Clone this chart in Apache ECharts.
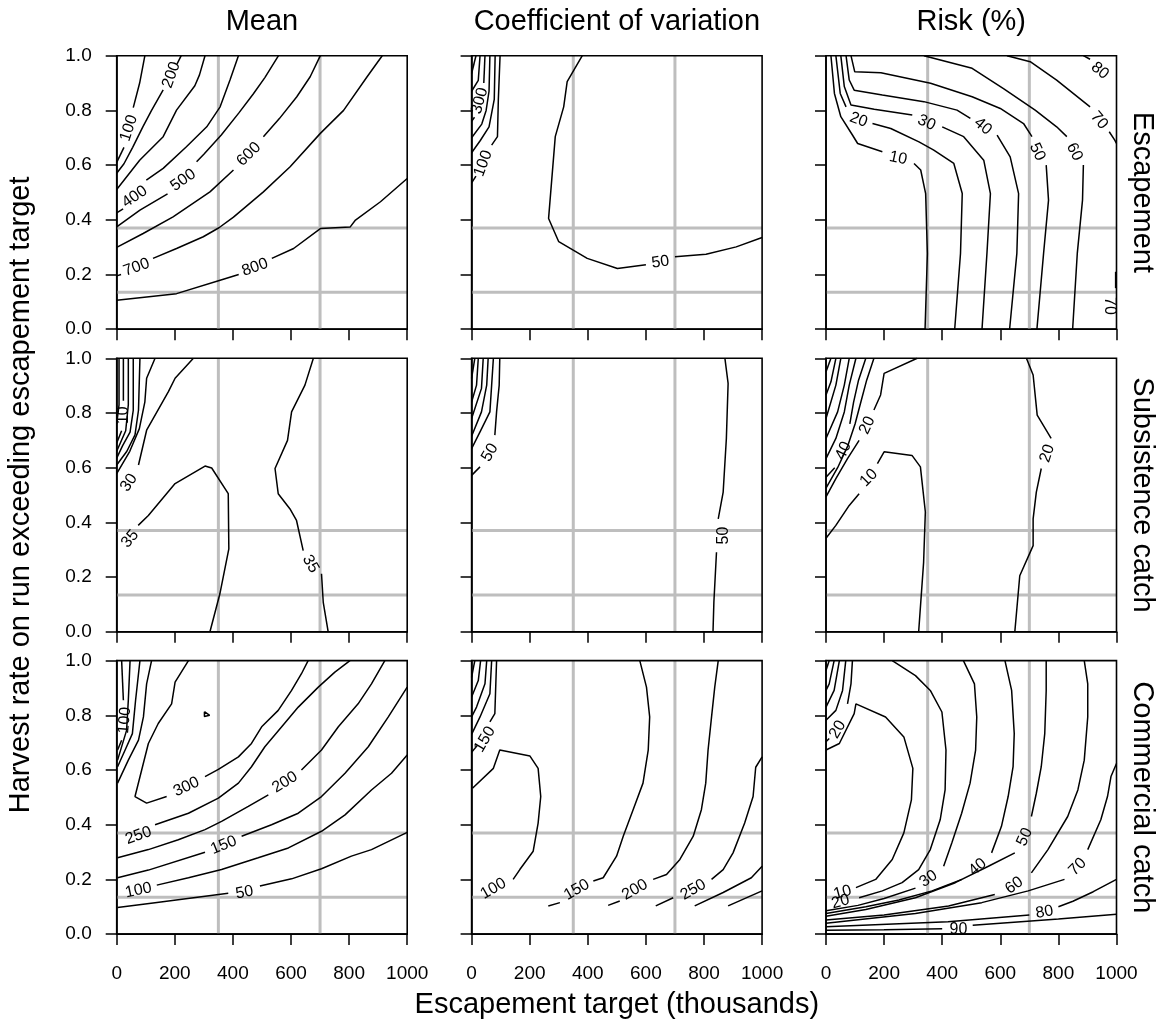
<!DOCTYPE html>
<html><head><meta charset="utf-8">
<script src="https://cdn.jsdelivr.net/npm/echarts@6/dist/echarts.min.js"></script>
<style>html,body{margin:0;padding:0;background:#fff}#c{width:1163px;height:1025px}</style>
</head><body><div id="c"></div>
<script>
const xTicks = [0, 200, 400, 600, 800, 1000];
const yTicks = [0, 0.2, 0.4, 0.6, 0.8, 1.0];
const refX = [350, 700];
const refY = [0.37, 0.135];
const colTitles = ['Mean', 'Coefficient of variation', 'Risk (%)'];
const rowTitles = ['Escapement', 'Subsistence catch', 'Commercial catch'];
const xTitle = 'Escapement target (thousands)';
const yTitle = 'Harvest rate on run exceeding escapement target';

// each contour: lv = level text, segs = polyline pieces [x, y], at = label point [x, y, angle]
const escMean = [
  {lv:'100', segs:[[[97,1],[79,0.9],[57,0.81]],[[25,0.665],[0,0.61]]], at:[42,0.735,72]},
  {lv:'200', segs:[[[222,1],[208,0.97]],[[160,0.875],[120,0.8],[90,0.74],[55,0.665],[25,0.605],[0,0.57]]], at:[188,0.93,70]},
  {lv:'300', segs:[[[304,1],[285,0.93],[269,0.89],[206,0.801],[160,0.704],[79,0.618],[0,0.511]]], at:null},
  {lv:'400', segs:[[[419,1],[390,0.911],[356,0.813],[310,0.74],[240,0.667],[160,0.588],[102,0.545]],[[22,0.44],[0,0.425]]], at:[62,0.484,35]},
  {lv:'500', segs:[[[557,1],[510,0.92],[470,0.86],[420,0.79],[360,0.71],[300,0.64],[275,0.612]],[[175,0.495],[80,0.435],[0,0.374]]], at:[229,0.545,35]},
  {lv:'600', segs:[[[701,1],[666,0.923],[620,0.85],[560,0.77],[505,0.704]],[[402,0.582],[321,0.502],[194,0.411],[91,0.35],[0,0.299]]], at:[455,0.64,45]},
  {lv:'700', segs:[[[914,1],[862,0.923],[781,0.8],[701,0.716],[597,0.594],[505,0.502],[402,0.41],[352,0.371],[298,0.338],[206,0.295],[125,0.259]],[[15,0.2],[0,0.195]]], at:[68,0.226,20]},
  {lv:'800', segs:[[[0,0.106],[206,0.13],[356,0.179],[420,0.2]],[[534,0.259],[609,0.295],[701,0.368],[804,0.374],[822,0.399],[908,0.466],[1000,0.551]]], at:[476,0.226,20]}
];
const escCV = [
  {lv:'50', segs:[[[381,1],[329,0.905],[317,0.813],[288,0.704],[265,0.405],[300,0.32],[398,0.259],[502,0.222],[600,0.236]],[[700,0.265],[807,0.274],[911,0.301],[1000,0.335]]], at:[650,0.245,8]},
  {lv:'100', segs:[[[98,1],[92,0.838],[89,0.704],[69,0.673]],[[15,0.56],[0,0.535]]], at:[40,0.606,70]},
  {lv:'', segs:[[[81,1],[78,0.84],[60,0.74],[30,0.69],[0,0.645]]], at:null},
  {lv:'', segs:[[[63,1],[60,0.87],[50,0.8],[35,0.75],[0,0.7]]], at:null},
  {lv:'300', segs:[[[46,1],[42,0.9]],[[10,0.775],[0,0.76]]], at:[28,0.835,75]},
  {lv:'', segs:[[[29,1],[23,0.91],[0,0.87]]], at:null},
  {lv:'', segs:[[[15,1],[0,0.935]]], at:null}
];
const escRisk = [
  {lv:'10', segs:[[[17,1],[29,0.862],[51,0.777],[91,0.71],[109,0.679],[194,0.649]],[[303,0.606],[326,0.582],[343,0.496],[349,0.277],[341,0]]], at:[248,0.625,-12]},
  {lv:'20', segs:[[[34,1],[49,0.862],[69,0.813]],[[160,0.752],[223,0.734],[320,0.685],[371,0.655],[440,0.606],[469,0.496],[463,0.277],[443,0]]], at:[112,0.765,-20]},
  {lv:'30', segs:[[[51,1],[63,0.887],[86,0.82],[166,0.804],[297,0.783]],[[400,0.74],[474,0.704],[543,0.618],[566,0.496],[554,0.277],[537,0]]], at:[346,0.755,-25]},
  {lv:'40', segs:[[[69,1],[80,0.911],[97,0.874],[194,0.856],[337,0.832],[451,0.801],[497,0.771]],[[589,0.71],[634,0.63],[663,0.496],[657,0.277],[632,0]]], at:[540,0.742,-40]},
  {lv:'50', segs:[[[86,1],[99,0.941],[189,0.938],[360,0.899],[503,0.85],[600,0.807],[680,0.752],[709,0.704]],[[758,0.6],[766,0.472],[749,0.277],[726,0]]], at:[727,0.648,-65]},
  {lv:'60', segs:[[[337,1],[503,0.954],[611,0.88],[720,0.801],[794,0.74],[829,0.704]],[[886,0.6],[883,0.472],[865,0.277],[849,0]]], at:[855,0.648,-65]},
  {lv:'70', segs:[[[623,1],[703,0.978],[794,0.911],[909,0.813]],[[975,0.722],[994,0.691],[1000,0.679]]], at:[940,0.763,-50]},
  {lv:'80', segs:[[[886,1],[909,0.987]]], at:[943,0.945,-40]},
  {lv:'70', segs:[[[997,0.21],[997,0.15]]], at:[977,0.085,-90]}
];
const subMean = [
  {lv:'35', segs:[[[74,0.389],[109,0.425],[201,0.542],[304,0.606],[327,0.599],[384,0.505],[386,0.303],[355,0.138],[321,0]]], at:[46,0.34,50]},
  {lv:'35', segs:[[[677,1],[648,0.902],[602,0.804],[588,0.7],[545,0.597],[556,0.505],[596,0.45],[619,0.407],[642,0.297]],[[705,0.212],[711,0.108],[728,0]]], at:[667,0.248,-60]},
  {lv:'30', segs:[[[264,1],[201,0.927],[178,0.878],[103,0.737],[75,0.61]]], at:[42,0.545,55]},
  {lv:'', segs:[[[132,1],[103,0.927],[97,0.841],[78,0.743],[45,0.66],[0,0.578]]], at:null},
  {lv:'', segs:[[[80,1],[75,0.81],[63,0.72],[35,0.66],[0,0.61]]], at:null},
  {lv:'', segs:[[[57,1],[57,0.81],[46,0.73],[20,0.68],[0,0.635]]], at:null},
  {lv:'', segs:[[[40,1],[40,0.83],[31,0.735],[0,0.66]]], at:null},
  {lv:'10', segs:[[[23,1],[23,0.845]],[[17,0.735],[0,0.69]]], at:[23,0.792,90]},
  {lv:'', segs:[[[8,1],[8,0.83],[0,0.76]]], at:null}
];
const subCV = [
  {lv:'50', segs:[[[872,1],[883,0.908],[877,0.707],[866,0.511],[849,0.413]],[[843,0.291],[834,0.108],[831,0]]], at:[866,0.352,90]},
  {lv:'50', segs:[[[97,1],[95,0.902],[86,0.804],[80,0.719]],[[29,0.603],[0,0.572]]], at:[63,0.655,60]},
  {lv:'', segs:[[[75,1],[69,0.902],[63,0.804],[29,0.731],[0,0.67]]], at:null},
  {lv:'', segs:[[[57,1],[52,0.902],[34,0.804],[0,0.715]]], at:null},
  {lv:'', segs:[[[40,1],[34,0.89],[0,0.78]]], at:null},
  {lv:'', segs:[[[23,1],[17,0.902],[0,0.84]]], at:null},
  {lv:'', segs:[[[11,1],[0,0.927]]], at:null}
];
const subRisk = [
  {lv:'20', segs:[[[690,1],[713,0.939],[727,0.792],[775,0.707]],[[741,0.597],[724,0.511],[713,0.413],[713,0.315],[667,0.205],[650,0]]], at:[762,0.652,72]},
  {lv:'10', segs:[[[0,0.342],[34,0.389],[80,0.462],[114,0.505]],[[177,0.615],[200,0.658],[296,0.645],[325,0.603],[342,0.438],[336,0.254],[319,0]]], at:[148,0.563,45]},
  {lv:'20', segs:[[[314,1],[200,0.945],[188,0.866],[165,0.811]],[[114,0.7],[74,0.633],[34,0.56],[0,0.493]]], at:[142,0.755,65]},
  {lv:'', segs:[[[165,1],[140,0.92],[120,0.84],[100,0.76],[75,0.68],[40,0.6],[0,0.525]]], at:null},
  {lv:'40', segs:[[[137,1],[112,0.92],[95,0.84],[82,0.76]],[[30,0.6],[0,0.565]]], at:[60,0.662,65]},
  {lv:'', segs:[[[103,1],[80,0.902],[63,0.804],[34,0.707],[0,0.633]]], at:null},
  {lv:'', segs:[[[80,1],[63,0.902],[40,0.804],[0,0.707]]], at:null},
  {lv:'', segs:[[[51,1],[34,0.902],[0,0.78]]], at:null},
  {lv:'', segs:[[[34,1],[17,0.914],[0,0.866]]], at:null},
  {lv:'', segs:[[[17,1],[0,0.951]]], at:null}
];
const comMean = [
  {lv:'50', segs:[[[3,0.097],[132,0.115],[384,0.149]],[[493,0.176],[602,0.202],[705,0.239],[808,0.285],[877,0.309],[1000,0.372]]], at:[440,0.152,10]},
  {lv:'100', segs:[[[138,0.179],[247,0.206],[361,0.236],[487,0.279],[591,0.315],[705,0.376],[786,0.436],[877,0.527],[946,0.588],[1000,0.655]]], at:[75,0.16,12]},
  {lv:'150', segs:[[[3,0.206],[109,0.234],[304,0.299]],[[430,0.358],[533,0.4],[625,0.442],[705,0.503],[786,0.588],[866,0.685],[935,0.794],[1000,0.903]]], at:[368,0.325,22]},
  {lv:'200', segs:[[[3,0.279],[109,0.309],[212,0.345],[304,0.382],[361,0.412],[453,0.467],[522,0.509]],[[636,0.6],[705,0.673],[763,0.758],[831,0.842],[877,0.915],[923,1]]], at:[579,0.555,32]},
  {lv:'250', segs:[[[132,0.4],[247,0.442],[350,0.497],[419,0.552],[464,0.612],[510,0.685],[568,0.758],[625,0.83],[694,0.903],[751,0.958],[803,1]]], at:[75,0.36,20]},
  {lv:'300', segs:[[[247,1],[201,0.921],[189,0.842],[143,0.77],[109,0.697],[86,0.6],[63,0.503],[103,0.479],[172,0.503]],[[304,0.576],[350,0.602],[419,0.648],[464,0.697],[499,0.758],[556,0.818],[602,0.891],[636,0.952],[659,1]]], at:[240,0.538,25]},
  {lv:'100', segs:[[[17,1],[23,0.855]],[[17,0.709],[3,0.673]]], at:[28,0.782,85]},
  {lv:'', segs:[[[46,1],[40,0.855],[34,0.745],[3,0.636]]], at:null},
  {lv:'', segs:[[[80,1],[65,0.855],[54,0.733],[29,0.673],[3,0.612]]], at:null},
  {lv:'', segs:[[[120,1],[103,0.915],[92,0.794],[75,0.709],[40,0.636],[3,0.552]]], at:null},
  {lv:'', segs:[[[302,0.813],[320,0.8],[302,0.796],[302,0.813]]], at:null}
];
const comCV = [
  {lv:'100', segs:[[[3,0.533],[75,0.606],[97,0.673],[201,0.651],[229,0.606],[238,0.503],[229,0.406],[212,0.303],[166,0.236],[143,0.2]]], at:[75,0.166,30]},
  {lv:'150', segs:[[[579,1],[602,0.903],[613,0.794],[608,0.673],[590,0.552],[556,0.455],[522,0.358],[499,0.285],[453,0.206],[419,0.194]],[[304,0.115],[264,0.103]]], at:[362,0.162,30]},
  {lv:'200', segs:[[[849,1],[837,0.903],[826,0.794],[814,0.673],[806,0.552],[791,0.455],[763,0.358],[717,0.273],[671,0.218],[625,0.2]],[[510,0.121],[470,0.105]]], at:[562,0.162,30]},
  {lv:'250', segs:[[[1000,0.648],[978,0.61],[969,0.503],[940,0.406],[900,0.297],[866,0.236],[826,0.2]],[[694,0.133],[634,0.103]]], at:[763,0.162,30]},
  {lv:'', segs:[[[1000,0.248],[963,0.206],[866,0.152],[768,0.103]]], at:null},
  {lv:'', segs:[[[1000,0.158],[883,0.103]]], at:null},
  {lv:'150', segs:[[[86,1],[80,0.806],[63,0.776]],[[20,0.69],[0,0.665]]], at:[46,0.712,60]},
  {lv:'', segs:[[[69,1],[63,0.879],[29,0.794],[0,0.73]]], at:null},
  {lv:'', segs:[[[52,1],[46,0.915],[17,0.83],[0,0.794]]], at:null},
  {lv:'', segs:[[[31,1],[23,0.927],[0,0.867]]], at:null},
  {lv:'', segs:[[[11,1],[0,0.939]]], at:null}
];
const comRisk = [
  {lv:'10', segs:[[[0,0.673],[46,0.697],[97,0.806],[103,0.842],[205,0.794],[268,0.721],[299,0.606],[294,0.491],[268,0.37],[228,0.273],[171,0.2],[103,0.17]]], at:[57,0.152,15]},
  {lv:'20', segs:[[[228,1],[308,0.945],[359,0.891],[399,0.812],[413,0.673],[410,0.527],[393,0.418],[359,0.309],[319,0.236],[262,0.188],[194,0.158],[114,0.133]]], at:[50,0.118,15]},
  {lv:'30', segs:[[[473,1],[511,0.915],[519,0.794],[515,0.673],[496,0.552],[467,0.442],[433,0.333],[405,0.248]],[[308,0.168],[200,0.13],[110,0.105],[0,0.085]]], at:[353,0.202,35]},
  {lv:'40', segs:[[[616,1],[639,0.891],[648,0.733],[644,0.612],[627,0.503],[604,0.394],[570,0.297]],[[468,0.2],[365,0.158],[251,0.125],[137,0.1],[0,0.075]]], at:[522,0.245,40]},
  {lv:'50', segs:[[[758,1],[758,0.891],[753,0.733],[741,0.612],[724,0.515],[707,0.43]],[[650,0.297],[559,0.248],[445,0.188],[308,0.133],[137,0.09],[0,0.065]]], at:[684,0.355,65]},
  {lv:'60', segs:[[[889,1],[901,0.915],[901,0.794],[889,0.636],[867,0.527],[832,0.43],[764,0.309],[707,0.224]],[[581,0.145],[422,0.103],[200,0.07],[0,0.052]]], at:[648,0.178,35]},
  {lv:'70', segs:[[[1000,0.624],[981,0.576],[969,0.503],[946,0.418],[901,0.309]],[[821,0.2],[696,0.158],[536,0.115],[308,0.075],[0,0.04]]], at:[866,0.246,45]},
  {lv:'80', segs:[[[1000,0.2],[920,0.155],[850,0.12],[800,0.1]],[[700,0.07],[420,0.045],[0,0.027]]], at:[752,0.08,10]},
  {lv:'90', segs:[[[1000,0.073],[800,0.055],[600,0.04],[505,0.032]],[[400,0.02],[200,0.016],[0,0.014]]], at:[456,0.016,0]},
  {lv:'20', segs:[[[91,1],[86,0.915],[74,0.842]],[[11,0.715],[0,0.703]]], at:[40,0.748,60]},
  {lv:'', segs:[[[68,1],[57,0.891],[34,0.818],[0,0.782]]], at:null},
  {lv:'', segs:[[[46,1],[28,0.891],[0,0.83]]], at:null},
  {lv:'', segs:[[[28,1],[11,0.915],[0,0.891]]], at:null},
  {lv:'', segs:[[[11,1],[0,0.964]]], at:null}
];
const panels = [escMean, escCV, escRisk, subMean, subCV, subRisk, comMean, comCV, comRisk];

const FONT = '"Liberation Sans", Arial, Helvetica, sans-serif';
const L = [116.7, 471.6, 826], T = [55.7, 358.3, 660.6], W = 290.5, H = 273.5;
const chart = echarts.init(document.getElementById('c'), null, {renderer: 'canvas'});
const option = {animation: false, backgroundColor: '#fff', grid: [], xAxis: [], yAxis: [], series: [], graphic: []};

panels.forEach((P, i) => {
  const r = Math.floor(i / 3), c = i % 3;
  option.grid.push({left: L[c], top: T[r], width: W, height: H, show: true, borderColor: '#000', borderWidth: 1.6, backgroundColor: 'transparent', z: 10});
  option.xAxis.push({type: 'value', gridIndex: i, min: xTicks[0], max: xTicks[xTicks.length - 1], interval: xTicks[1] - xTicks[0],
    axisLine: {show: true, onZero: false, lineStyle: {color: '#000', width: 1.6}},
    axisTick: {show: true, inside: false, length: 11, lineStyle: {color: '#000', width: 1.5}},
    axisLabel: {show: r === 2, margin: 30, fontSize: 19, color: '#000', fontFamily: FONT, formatter: v => String(v)},
    splitLine: {show: false}});
  option.yAxis.push({type: 'value', gridIndex: i, min: yTicks[0], max: yTicks[yTicks.length - 1], interval: 0.2,
    axisLine: {show: true, onZero: false, lineStyle: {color: '#000', width: 1.6}},
    axisTick: {show: true, inside: false, length: 11, lineStyle: {color: '#000', width: 1.5}},
    axisLabel: {show: c === 0, margin: 25, fontSize: 19, color: '#000', fontFamily: FONT, formatter: v => v.toFixed(1)},
    splitLine: {show: false}});
  const grey = {color: '#bebebe', width: 3};
  refX.forEach(v => option.series.push({type: 'line', xAxisIndex: i, yAxisIndex: i, data: [[v, yTicks[0]], [v, yTicks[5]]], symbol: 'none', lineStyle: grey, silent: true, z: 1}));
  refY.forEach(v => option.series.push({type: 'line', xAxisIndex: i, yAxisIndex: i, data: [[xTicks[0], v], [xTicks[5], v]], symbol: 'none', lineStyle: grey, silent: true, z: 1}));
  P.forEach(ct => ct.segs.forEach(s => option.series.push({type: 'line', xAxisIndex: i, yAxisIndex: i, data: s, symbol: 'none', smooth: false,
    lineStyle: {color: '#000', width: 1.5}, silent: true, z: 3})));
  option.series.push({type: 'scatter', xAxisIndex: i, yAxisIndex: i, symbolSize: 1, itemStyle: {color: 'rgba(255,255,255,0)'}, silent: true, z: 5,
    data: P.filter(ct => ct.at).map(ct => ({name: ct.lv, value: [ct.at[0], ct.at[1]], label: {rotate: ct.at[2]}})),
    label: {show: true, position: 'inside', formatter: '{b}', fontSize: 16, color: '#000', textBorderWidth: 0, textBorderColor: 'transparent', opacity: 1, fontFamily: FONT}});
});

const txt = (text, x, y, rot) => ({type: 'text', x: x, y: y, rotation: rot || 0, z: 20,
  style: {text: text, font: '29px ' + FONT, fill: '#000', textAlign: 'center', textVerticalAlign: 'middle'}});
colTitles.forEach((t, c) => option.graphic.push(txt(t, L[c] + W / 2, 22)));
rowTitles.forEach((t, r) => option.graphic.push(txt(t, 1142, T[r] + H / 2, -Math.PI / 2)));
option.graphic.push(txt(yTitle, 21, (T[0] + T[2] + H) / 2, Math.PI / 2));
option.graphic.push(txt(xTitle, L[1] + W / 2, 1005));

chart.setOption(option);
</script>
</body></html>
